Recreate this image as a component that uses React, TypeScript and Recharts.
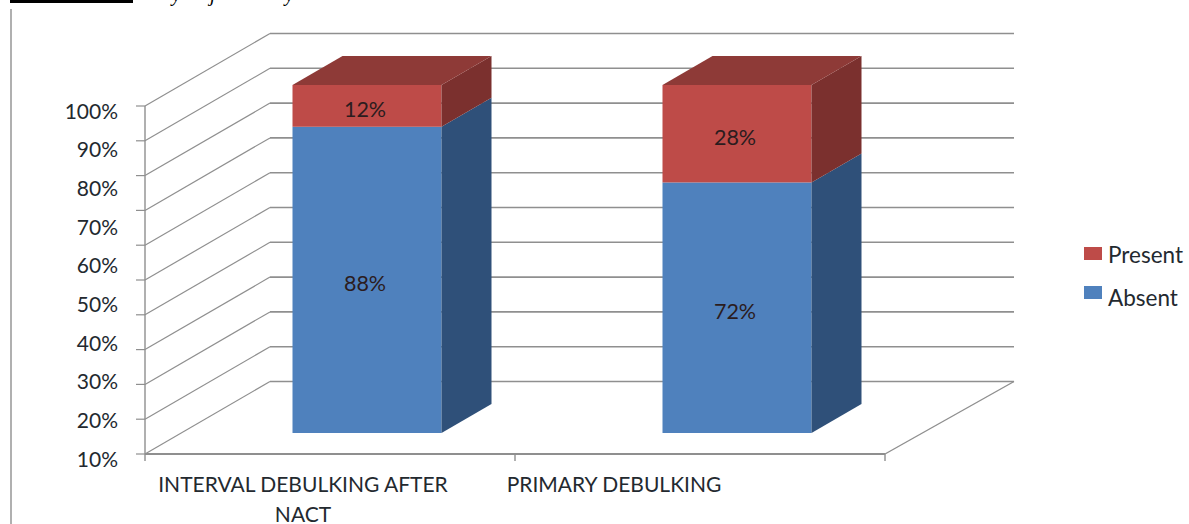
import React from "react";
import { BarChart, Bar, XAxis, YAxis, CartesianGrid, Legend, LabelList } from "recharts";

const categories = ["INTERVAL DEBULKING AFTER NACT", "PRIMARY DEBULKING"];
const absentValues = [88, 72];
const presentValues = [12, 28];
const gridTicks = [0, 10, 20, 30, 40, 50, 60, 70, 80, 90, 100];
const labelTicks = [10, 20, 30, 40, 50, 60, 70, 80, 90, 100];

const rows = categories.map((name, i) => ({
  name,
  Absent: absentValues[i],
  Present: presentValues[i],
}));

const FONT = "Lato, Carlito, sans-serif";
const TEXT = "#23292f";
const LINE = "#8f8f8f";

// Oblique projection of the box: how far the back wall sits from the front axes.
const WALL_DX = 125;
const WALL_DY = -72.5;
// Columns stand part-way into the floor and have their own depth.
const BAR_SHIFT_X = 36.5;
const BAR_SHIFT_Y = -21;
const BAR_DEPTH_X = 50;
const BAR_DEPTH_Y = -29;

const BLUE = { front: "#4f81bd", side: "#2f5079" };
const RED = { front: "#be4b48", side: "#7b302e", top: "#8e3a37" };

const PLOT_MARGIN = { top: 106, right: 304 };

function Column(props: any) {
  const { x, y, width, height, faces, capped } = props;
  const l = x + BAR_SHIFT_X;
  const t = y + BAR_SHIFT_Y;
  const r = l + width;
  const b = t + height;
  return (
    <g>
      <rect x={l} y={t} width={width} height={height} fill={faces.front} />
      <path
        d={`M${r},${t}L${r + BAR_DEPTH_X},${t + BAR_DEPTH_Y}L${r + BAR_DEPTH_X},${b + BAR_DEPTH_Y}L${r},${b}Z`}
        fill={faces.side}
      />
      {capped && (
        <path
          d={`M${l},${t}L${l + BAR_DEPTH_X},${t + BAR_DEPTH_Y}L${r + BAR_DEPTH_X},${t + BAR_DEPTH_Y}L${r},${t}Z`}
          fill={faces.top}
        />
      )}
    </g>
  );
}

function ValueLabel(props: any) {
  const { x, y, width, height, value } = props;
  return (
    <text
      x={x + width / 2 + BAR_SHIFT_X - 2}
      y={y + height / 2 + BAR_SHIFT_Y + 3}
      textAnchor="middle"
      dominantBaseline="central"
      fontFamily={FONT}
      fontSize={21.5}
      fill="#2b1c1e"
    >
      {`${value}%`}
    </text>
  );
}

// Each wall line runs from the front axis, up the side wall, and across the back.
function WallLine(props: any) {
  const { x1, x2, y1 } = props;
  const isFloor = y1 > 450;
  const backY = y1 + WALL_DY;
  return (
    <g fill="none" stroke={LINE}>
      <path d={`M${x1},${y1}L${x1 + WALL_DX},${backY}`} strokeWidth={1.2} />
      <path d={`M${x1 + WALL_DX},${backY}L${x2 + WALL_DX + 4},${backY}`} strokeWidth={1.6} />
      {isFloor && <path d={`M${x2},${y1}L${x2 + WALL_DX + 4},${backY}`} strokeWidth={1.4} />}
    </g>
  );
}

function PercentTick(props: any) {
  const { x, y, payload } = props;
  return (
    <text
      x={x}
      y={y + 4}
      textAnchor="end"
      dominantBaseline="central"
      fontFamily={FONT}
      fontSize={21}
      fill={TEXT}
    >
      {`${payload.value}%`}
    </text>
  );
}

const CATEGORY_LINES = [["INTERVAL DEBULKING AFTER", "NACT"], ["PRIMARY DEBULKING"]];
const LABEL_SHIFT = [-27, -86];

function CategoryTick(props: any) {
  const { x, index } = props;
  const half = 185;
  const cx = x + LABEL_SHIFT[index];
  return (
    <g>
      <line x1={x - half} x2={x - half} y1={454} y2={461} stroke={LINE} strokeWidth={1.4} />
      {index === categories.length - 1 && (
        <line x1={x + half} x2={x + half} y1={454} y2={461} stroke={LINE} strokeWidth={1.4} />
      )}
      {CATEGORY_LINES[index].map((line, i) => (
        <text
          key={line}
          x={cx}
          y={492 + i * 30}
          textAnchor="middle"
          fontFamily={FONT}
          fontSize={21}
          fill={TEXT}
        >
          {line}
        </text>
      ))}
    </g>
  );
}

// Swatches sit a little above their captions, and closer together than the captions.
const SWATCH_LIFT = [3, 11];

function LegendBlock(props: any) {
  const items = [...(props.payload ?? [])].reverse();
  return (
    <div style={{ fontFamily: FONT, fontSize: 22.5, color: TEXT }}>
      {items.map((item: any, i: number) => (
        <div key={item.value} style={{ display: "flex", alignItems: "center", height: 43 }}>
          <span
            style={{ width: 18, height: 13, background: item.color, marginRight: 6, marginBottom: SWATCH_LIFT[i] }}
          />
          <span>{item.value}</span>
        </div>
      ))}
    </div>
  );
}

export default function App() {
  return (
    <div style={{ position: "absolute", left: 0, top: 0, width: 1189, height: 524, background: "#fff", overflow: "hidden" }}>
      <div style={{ position: "absolute", left: 10, top: 0, width: 123, height: 3, background: "#000" }} />
      <div style={{ position: "absolute", left: 10, top: 9, width: 2, bottom: 0, background: "#b0b0b0" }} />
      <svg width={1189} height={8} style={{ position: "absolute", left: 0, top: 0 }}>
        <g fontFamily="'Liberation Serif', serif" fontStyle="italic" fontSize={20} fill="#000">
          <text x={172} y={1}>y</text>
          <text x={210} y={1}>j</text>
          <text x={285} y={1}>y</text>
        </g>
      </svg>
      {/* Percent captions have their own 10-100 scale over the same plot height. */}
      <div style={{ position: "absolute", left: 0, top: 0 }}>
        <BarChart width={1189} height={524} data={rows} margin={{ ...PLOT_MARGIN, left: 0, bottom: 70 }}>
          <XAxis dataKey="name" hide />
          <YAxis
            type="number"
            domain={[10, 100]}
            allowDataOverflow
            ticks={labelTicks}
            interval={0}
            width={145}
            tickSize={0}
            tickMargin={27}
            axisLine={false}
            tickLine={false}
            tick={PercentTick}
          />
          <Bar dataKey="Absent" fill="none" isAnimationActive={false} />
        </BarChart>
      </div>
      <div style={{ position: "absolute", left: 0, top: 0 }}>
        <BarChart
          width={1189}
          height={524}
          data={rows}
          barCategoryGap={0}
          barSize={149}
          margin={{ ...PLOT_MARGIN, left: 118, bottom: 0 }}
        >
          <CartesianGrid vertical={false} horizontal={(p: any) => <WallLine key={p.index} {...p} />} />
          <XAxis
            dataKey="name"
            interval={0}
            height={70}
            tickSize={0}
            tickLine={false}
            axisLine={{ stroke: LINE, strokeWidth: 1.8 }}
            tick={CategoryTick}
          />
          <YAxis
            domain={[0, 100]}
            ticks={gridTicks}
            interval={0}
            width={27}
            tickSize={9}
            tick={() => <g />}
            axisLine={{ stroke: LINE, strokeWidth: 1.4 }}
            tickLine={{ stroke: LINE, strokeWidth: 1.2 }}
          />
          <Legend
            layout="vertical"
            align="center"
            verticalAlign="middle"
            content={LegendBlock}
            wrapperStyle={{ left: 1084, top: 233, width: 105, margin: 0 }}
          />
          <Bar
            dataKey="Absent"
            stackId="share"
            fill={BLUE.front}
            isAnimationActive={false}
            shape={(p: any) => <Column {...p} faces={BLUE} />}
          >
            <LabelList dataKey="Absent" content={ValueLabel} />
          </Bar>
          <Bar
            dataKey="Present"
            stackId="share"
            fill={RED.front}
            isAnimationActive={false}
            shape={(p: any) => <Column {...p} faces={RED} capped />}
          >
            <LabelList dataKey="Present" content={ValueLabel} />
          </Bar>
        </BarChart>
      </div>
    </div>
  );
}
